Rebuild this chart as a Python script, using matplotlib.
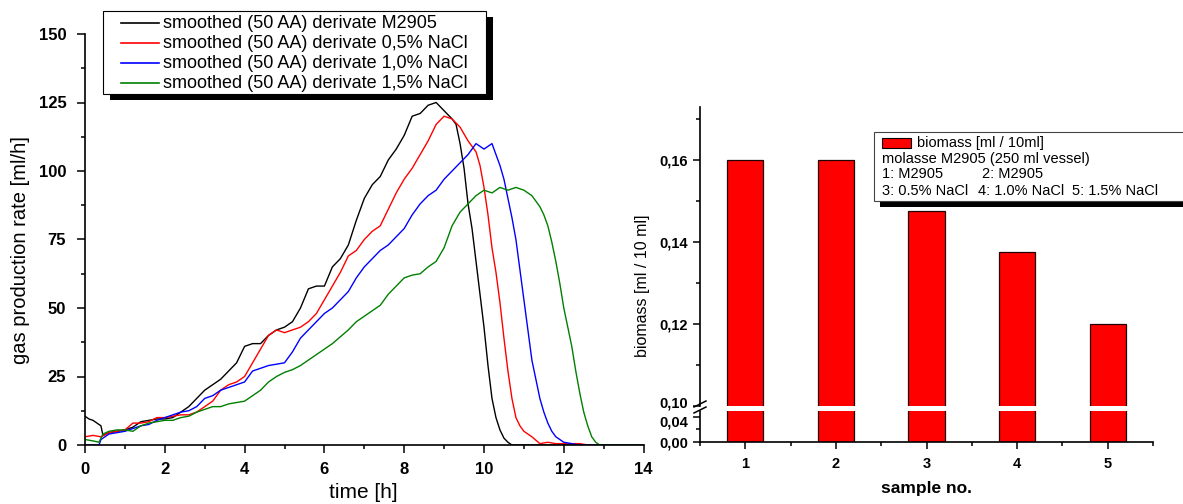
import matplotlib
matplotlib.use('Agg')
import matplotlib.pyplot as plt
from matplotlib.patches import Rectangle
from matplotlib.lines import Line2D
from matplotlib.ticker import MultipleLocator, FuncFormatter
from matplotlib.transforms import ScaledTranslation

plt.rcParams['font.family'] = ['Liberation Sans', 'DejaVu Sans']

# gas production rate curves [ml/h] vs time [h]
t_m2905 = [0, 0.1, 0.2, 0.3, 0.4, 0.45, 0.6, 0.8, 1.0, 1.2, 1.4, 1.6, 1.8, 2.0, 2.2, 2.4, 2.6, 2.8,
           3.0, 3.2, 3.4, 3.6, 3.8, 4.0, 4.2, 4.4, 4.6, 4.8, 5.0, 5.2, 5.4, 5.6, 5.8, 6.0, 6.2, 6.4,
           6.6, 6.8, 7.0, 7.2, 7.4, 7.6, 7.8, 8.0, 8.2, 8.4, 8.6, 8.8, 9.0, 9.2, 9.3, 9.4, 9.5, 9.6,
           9.7, 9.8, 9.9, 10.0, 10.1, 10.2, 10.3, 10.4, 10.5, 10.6, 10.7, 14.0]
v_m2905 = [10.5, 9.5, 9, 8, 7, 3.5, 4.5, 5, 5.5, 6.5, 8.5, 9, 9.5, 9.5, 10, 12, 14, 17,
           20, 22, 24, 27, 30, 36, 37, 37, 40, 42, 43, 45, 50, 57, 58, 58, 65, 68,
           73, 82, 90, 95, 98, 104, 108, 113, 120, 121, 124, 125, 122, 119, 117, 110, 101, 88,
           79, 67, 55, 43, 29, 17, 10, 5.5, 2.5, 1, 0, 0]

t_nacl05 = [0, 0.2, 0.4, 0.6, 0.8, 1.0, 1.2, 1.4, 1.6, 1.8, 2.0, 2.2, 2.4, 2.6, 2.8, 3.0, 3.2, 3.4,
            3.6, 3.8, 4.0, 4.2, 4.4, 4.6, 4.8, 5.0, 5.2, 5.4, 5.6, 5.8, 6.0, 6.2, 6.4, 6.6, 6.8, 7.0,
            7.2, 7.4, 7.6, 7.8, 8.0, 8.2, 8.4, 8.6, 8.8, 9.0, 9.2, 9.4, 9.6, 9.8, 9.9, 10.0, 10.1,
            10.2, 10.3, 10.4, 10.5, 10.6, 10.7, 10.8, 10.9, 11.0, 11.2, 11.4, 11.6, 11.8, 12.0, 12.4,
            12.6, 14.0]
v_nacl05 = [3, 3.5, 3, 4.5, 5, 5.5, 8, 8, 8.5, 10, 10, 10.5, 11, 11, 12, 14, 16, 20,
            22, 23, 25, 30, 35, 40, 42, 41, 42, 43, 45, 48, 53, 58, 63, 69, 71, 75,
            78, 80, 86, 92, 97, 101, 106, 111, 117, 120, 119, 116, 111, 107, 102, 94, 84,
            72, 63, 52, 39, 27, 17, 10, 7, 5, 3, 0.5, 1, 0.5, 0.5, 0.5,
            0, 0]

t_nacl10 = [0, 0.2, 0.35, 0.4, 0.6, 0.8, 1.0, 1.2, 1.4, 1.6, 1.8, 2.0, 2.2, 2.4, 2.6, 2.8, 3.0, 3.2,
            3.4, 3.6, 3.8, 4.0, 4.2, 4.4, 4.6, 4.8, 5.0, 5.2, 5.4, 5.6, 5.8, 6.0, 6.2, 6.4, 6.6, 6.8,
            7.0, 7.2, 7.4, 7.6, 7.8, 8.0, 8.2, 8.4, 8.6, 8.8, 9.0, 9.2, 9.4, 9.6, 9.8, 10.0, 10.2,
            10.3, 10.4, 10.5, 10.6, 10.7, 10.8, 10.9, 11.0, 11.1, 11.2, 11.3, 11.4, 11.5, 11.6, 11.7,
            11.8, 12.0, 12.2, 12.4, 14.0]
v_nacl10 = [0, 0, 0, 2, 4, 4.5, 5, 6, 7, 7.5, 9, 10, 11, 12, 12.5, 14, 17, 18,
            20, 21, 22, 23, 27, 28, 29, 29.5, 30, 34, 39, 42, 45, 48, 50, 53, 56, 61,
            65, 68, 71, 73, 76, 79, 84, 88, 91, 93, 97, 100, 103, 106, 110, 108, 110,
            106, 102, 97, 90, 83, 75, 64, 53, 42, 31, 24, 17, 12, 8, 5,
            3, 1, 0.5, 0, 0]

t_nacl15 = [0, 0.2, 0.35, 0.45, 0.6, 0.8, 1.0, 1.2, 1.4, 1.6, 1.8, 2.0, 2.2, 2.4, 2.6, 2.8, 3.0, 3.2,
            3.4, 3.6, 3.8, 4.0, 4.2, 4.4, 4.6, 4.8, 5.0, 5.2, 5.4, 5.6, 5.8, 6.0, 6.2, 6.4, 6.6, 6.8,
            7.0, 7.2, 7.4, 7.6, 7.8, 8.0, 8.2, 8.4, 8.6, 8.8, 9.0, 9.2, 9.4, 9.6, 9.8, 10.0, 10.2,
            10.4, 10.6, 10.8, 11.0, 11.2, 11.4, 11.5, 11.6, 11.7, 11.8, 11.9, 12.0, 12.1, 12.2, 12.3,
            12.4, 12.5, 12.6, 12.7, 12.8, 12.9, 14.0]
v_nacl15 = [2, 1.5, 1, 4, 5, 5.5, 5.5, 5, 7, 8, 8.5, 9, 9, 10, 10.5, 12, 13, 14,
            14, 15, 15.5, 16, 18, 20, 23, 25, 26.5, 27.5, 29, 31, 33, 35, 37, 39.5, 42, 45,
            47, 49, 51, 55, 58, 61, 62, 62.5, 65, 67, 72, 80, 85, 88, 91, 93, 92,
            94, 93, 94, 93, 91, 87, 84, 80, 74, 67, 59, 50, 43, 36, 27,
            19, 12, 7, 3, 1, 0, 0]

curves = [
    (t_m2905, v_m2905, 'black', 'smoothed (50 AA) derivate M2905'),
    (t_nacl05, v_nacl05, 'red', 'smoothed (50 AA) derivate 0,5% NaCl'),
    (t_nacl10, v_nacl10, 'blue', 'smoothed (50 AA) derivate 1,0% NaCl'),
    (t_nacl15, v_nacl15, 'green', 'smoothed (50 AA) derivate 1,5% NaCl'),
]

# biomass per sample
samples = [1, 2, 3, 4, 5]
biomass = [0.160, 0.160, 0.1475, 0.1375, 0.120]

W, H = 1183, 504
fig = plt.figure(figsize=(W / 100, H / 100), dpi=100)


def fx(px):
    return px / W


def fy(py):
    return 1 - py / H


def style_ax(a):
    for s in ['top', 'right']:
        a.spines[s].set_visible(False)
    for s in ['left', 'bottom']:
        a.spines[s].set_linewidth(1.2)
    a.tick_params(which='both', direction='out', width=1.1)


# ---- left panel: gas production rate ----
ax = fig.add_axes([fx(85), fy(445), fx(643.6) - fx(85), fy(34) - fy(445)])
for t, v, c, lab in curves:
    ax.plot(t, v, color=c, lw=1.0)
ax.set_xlim(0, 14)
ax.set_ylim(0, 150)
style_ax(ax)
ax.xaxis.set_major_locator(MultipleLocator(2))
ax.xaxis.set_minor_locator(MultipleLocator(1))
ax.yaxis.set_major_locator(MultipleLocator(25))
ax.yaxis.set_minor_locator(MultipleLocator(12.5))
ax.tick_params(which='major', length=5.5)
ax.tick_params(which='minor', length=3)
ax.tick_params(axis='y', pad=8)
ax.tick_params(axis='x', pad=7)
for lbl in ax.get_xticklabels() + ax.get_yticklabels():
    lbl.set_fontsize(12)
    lbl.set_fontweight('bold')
ax.set_xlabel('time [h]', fontsize=15)
ax.xaxis.set_label_coords((363 - 85) / 558.6, -(493 - 445) / 411, transform=ax.transAxes)
ax.set_ylabel('gas production rate [ml/h]', fontsize=14.5)
ax.yaxis.set_label_coords(-(85 - 21) / 558.6, (445 - 250) / 411, transform=ax.transAxes)
ax.xaxis.label.set_va('center')
ax.yaxis.label.set_va('center')

# legend box with black shadow (drawn in figure pixels)
lx0, lx1, ly0, ly1 = 103, 486, 11, 94
fig.add_artist(Rectangle((fx(lx0 + 7), fy(ly1 + 6)), fx(lx1) - fx(lx0), fy(ly0) - fy(ly1),
                         transform=fig.transFigure, fc='black', ec='none', zorder=9))
fig.add_artist(Rectangle((fx(lx0), fy(ly1)), fx(lx1) - fx(lx0), fy(ly0) - fy(ly1),
                         transform=fig.transFigure, fc='white', ec='black', lw=0.8, zorder=10))
for i, (t, v, c, lab) in enumerate(curves):
    yy = 23 + 20 * i
    fig.add_artist(Line2D([fx(121), fx(159)], [fy(yy), fy(yy)], transform=fig.transFigure,
                          color=c, lw=1.2, zorder=11))
    fig.text(fx(163), fy(yy), lab, fontsize=13, va='center', ha='left', zorder=11)

# ---- right panel: biomass with broken axis ----
axu = fig.add_axes([fx(700), fy(405.7), fx(1153) - fx(700), fy(107) - fy(405.7)])
axl = fig.add_axes([fx(700), fy(441.7), fx(1153) - fx(700), fy(411) - fy(441.7)])
for a in (axu, axl):
    a.bar(samples, biomass, width=0.4, color='#ff0000', edgecolor='#200000', lw=0.9)
    a.set_xlim(0.5, 5.5)
    style_ax(a)
    a.tick_params(which='major', length=5)
    a.tick_params(which='minor', length=3)
    a.yaxis.set_major_formatter(FuncFormatter(lambda v, p: f'{v:.2f}'.replace('.', ',')))
    a.xaxis.set_major_locator(MultipleLocator(1))
    a.xaxis.set_minor_locator(MultipleLocator(0.5))
axu.set_ylim(0.10, 0.1729)
axu.yaxis.set_major_locator(MultipleLocator(0.02))
axu.yaxis.set_minor_locator(MultipleLocator(0.01))
axu.spines['bottom'].set_visible(False)
axu.tick_params(axis='x', which='both', bottom=False, labelbottom=False)
axl.set_ylim(0, 0.05)
axl.set_yticks([0.0, 0.04])
axl.set_yticks([0.02], minor=True)
axl.tick_params(axis='x', pad=6)
for a in (axu, axl):
    for lbl in a.get_xticklabels() + a.get_yticklabels():
        lbl.set_fontsize(10.5)
        lbl.set_fontweight('bold')
# nudge the two labels next to the axis break apart a little
fig.canvas.draw()
up = ScaledTranslation(0, 2.5 / 72, fig.dpi_scale_trans)
down = ScaledTranslation(0, -2.5 / 72, fig.dpi_scale_trans)
for lbl in axu.get_yticklabels():
    if lbl.get_text() == '0,10':
        lbl.set_transform(lbl.get_transform() + up)
for lbl in axl.get_yticklabels():
    if lbl.get_text() == '0,04':
        lbl.set_transform(lbl.get_transform() + down)
axl.set_xlabel('sample no.', fontsize=12.5, fontweight='bold', labelpad=7)
fig.text(fx(643), fy(286), 'biomass [ml / 10 ml]', rotation=90, fontsize=11.5,
         ha='center', va='center')

# break marks on the left spine
for y0 in (407, 413):
    fig.add_artist(Line2D([fx(694), fx(706)], [fy(y0), fy(y0 - 6)], transform=fig.transFigure,
                          color='black', lw=1.1, zorder=11))

# biomass legend box with shadow
bx0, bx1, by0, by1 = 874, 1195, 132, 201
fig.add_artist(Rectangle((fx(bx0 + 6), fy(by1 + 6)), fx(bx1) - fx(bx0), fy(by0) - fy(by1),
                         transform=fig.transFigure, fc='black', ec='none', zorder=9))
fig.add_artist(Rectangle((fx(bx0), fy(by1)), fx(bx1) - fx(bx0), fy(by0) - fy(by1),
                         transform=fig.transFigure, fc='white', ec='#444444', lw=0.8, zorder=10))
fig.add_artist(Rectangle((fx(882), fy(147.5)), fx(911) - fx(882), fy(138) - fy(147.5),
                         transform=fig.transFigure, fc='#ff0000', ec='black', lw=0.8, zorder=11))
leg_fs = 10.5
fig.text(fx(917), fy(142.7), 'biomass [ml / 10ml]', fontsize=leg_fs, va='center', zorder=11)
fig.text(fx(882), fy(159), 'molasse M2905 (250 ml vessel)', fontsize=leg_fs, va='center', zorder=11)
fig.text(fx(882), fy(174.5), '1: M2905', fontsize=leg_fs, va='center', zorder=11)
fig.text(fx(982), fy(174.5), '2: M2905', fontsize=leg_fs, va='center', zorder=11)
fig.text(fx(882), fy(191), '3: 0.5% NaCl', fontsize=leg_fs, va='center', zorder=11)
fig.text(fx(978), fy(191), '4: 1.0% NaCl', fontsize=leg_fs, va='center', zorder=11)
fig.text(fx(1072), fy(191), '5: 1.5% NaCl', fontsize=leg_fs, va='center', zorder=11)

fig.savefig('out.png', dpi=100)
